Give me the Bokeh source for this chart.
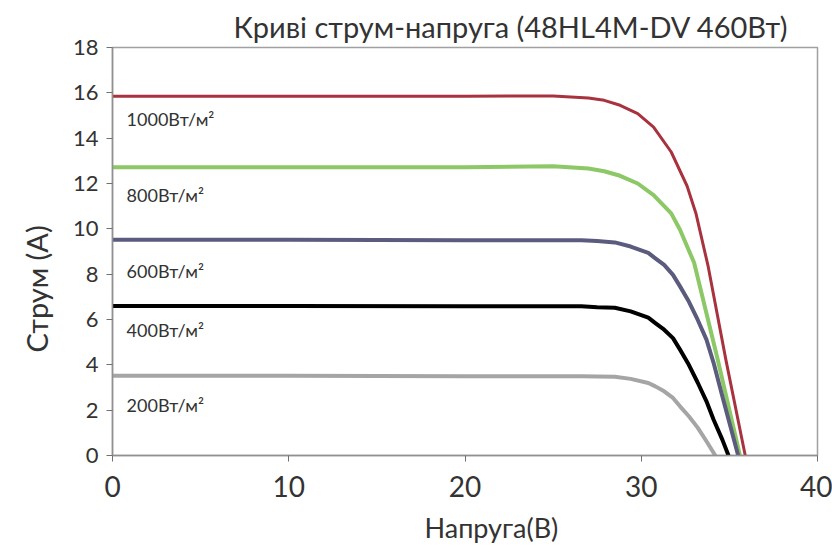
from bokeh.plotting import figure
from bokeh.models import Range1d, Label, FixedTicker, Title
from bokeh.embed import file_html
from bokeh.resources import INLINE

# ---- data ----
v_1000 = [0, 10, 20, 25.0, 27.0, 27.9, 28.8, 29.8, 30.7, 31.7, 32.6, 33.1, 33.8, 34.8, 35.9]
i_1000 = [15.85, 15.85, 15.85, 15.86, 15.77, 15.67, 15.45, 15.08, 14.49, 13.39, 11.89, 10.69, 8.33, 4.23, 0]

v_800 = [0, 10, 20, 25.0, 27.0, 27.9, 28.8, 29.8, 30.7, 31.7, 32.2, 33.0, 34.3, 35.6]
i_800 = [12.72, 12.72, 12.72, 12.76, 12.66, 12.54, 12.34, 12.0, 11.49, 10.68, 9.96, 8.5, 4.36, 0]

v_600 = [0, 10, 20, 26.6, 27.5, 28.5, 29.4, 30.4, 30.8, 31.3, 31.8, 32.2, 32.7, 33.2, 33.7, 34.1, 34.6, 35.5]
i_600 = [9.52, 9.52, 9.5, 9.5, 9.46, 9.4, 9.22, 8.94, 8.7, 8.41, 7.97, 7.46, 6.79, 5.99, 5.11, 4.1, 2.61, 0]

v_400 = [0, 10, 20, 26.6, 27.5, 28.5, 29.4, 30.4, 30.8, 31.3, 31.8, 32.2, 32.7, 33.2, 33.7, 34.1, 34.6, 34.95]
i_400 = [6.6, 6.6, 6.58, 6.58, 6.54, 6.52, 6.36, 6.08, 5.84, 5.55, 5.18, 4.67, 4.0, 3.22, 2.39, 1.59, 0.7, 0]

v_200 = [0, 10, 20, 26.6, 27.5, 28.5, 29.4, 30.4, 30.8, 31.3, 31.8, 32.2, 32.7, 33.2, 33.7, 34.2]
i_200 = [3.52, 3.52, 3.5, 3.5, 3.49, 3.47, 3.38, 3.2, 3.05, 2.83, 2.54, 2.17, 1.73, 1.23, 0.63, 0]

series_labels = ["1000Вт/м²", "800Вт/м²", "600Вт/м²", "400Вт/м²", "200Вт/м²"]
x_ticks = [0, 10, 20, 30, 40]
y_ticks = [0, 2, 4, 6, 8, 10, 12, 14, 16, 18]

title_text = "Криві струм-напруга (48HL4M-DV 460Вт)"
x_label = "Напруга(В)"
y_label = "Струм (А)"

# ---- styles ----
FONT = "Lato"
TXT = "#333333"
colors = ["#A8323E", "#8CC865", "#5B5B7E", "#000000", "#A5A5A5"]
widths = [3, 4, 4, 4, 4]
label_y = [14.86, 11.51, 8.16, 5.52, 2.22]

p = figure(width=832, height=552, output_backend="svg", toolbar_location=None,
           x_range=Range1d(0, 40), y_range=Range1d(0, 18),
           min_border_left=111, min_border_right=15, min_border_top=47,
           min_border_bottom=96)
p.background_fill_color = "white"
p.border_fill_color = "white"
p.outline_line_color = "#A0A0A0"
p.outline_line_width = 1.5
p.xgrid.visible = False
p.ygrid.visible = False

# main title (above)
p.title.text = title_text
p.title.align = "left"
p.title.offset = 121
p.title.text_font = FONT
p.title.text_font_size = "29px"
p.title.text_font_style = "normal"
p.title.text_color = TXT
p.title.text_line_height = 1.0
p.title.standoff = 8

series = [(v_1000, i_1000), (v_800, i_800), (v_600, i_600), (v_400, i_400), (v_200, i_200)]
for (vx, iy), c, w in zip(series, colors, widths):
    p.line(vx, iy, line_color=c, line_width=w, line_join="round", line_cap="round")

for txt, ly in zip(series_labels, label_y):
    p.add_layout(Label(x=0.8, y=ly, text=txt, text_font=FONT, text_font_size="18px",
                       text_color=TXT, text_baseline="middle", text_align="left"))

for ax in (p.xaxis[0], p.yaxis[0]):
    ax.axis_line_color = "#909090"
    ax.axis_line_width = 1.5
    ax.major_tick_line_color = "#707070"
    ax.major_tick_in = 0
    ax.major_tick_out = 6
    ax.minor_tick_line_color = None
    ax.major_label_text_font = FONT
    ax.major_label_text_color = TXT

p.xaxis.ticker = FixedTicker(ticks=x_ticks)
p.yaxis.ticker = FixedTicker(ticks=y_ticks)
p.xaxis.major_label_text_font_size = "28px"
p.yaxis.major_label_text_font_size = "22px"
p.xaxis.major_label_standoff = 14
p.yaxis.major_label_standoff = 8

# axis titles as side titles (allow offsets like the reference)
p.add_layout(Title(text=x_label, align="left", offset=312, text_font=FONT,
                   text_font_size="27px", text_font_style="normal", text_color=TXT,
                   text_line_height=1.0, standoff=18), "below")
p.add_layout(Title(text=y_label, align="left", offset=103, text_font=FONT,
                   text_font_size="29px", text_font_style="normal", text_color=TXT,
                   text_line_height=1.0, standoff=32), "left")

open("out.html", "w").write(file_html(p, INLINE))
